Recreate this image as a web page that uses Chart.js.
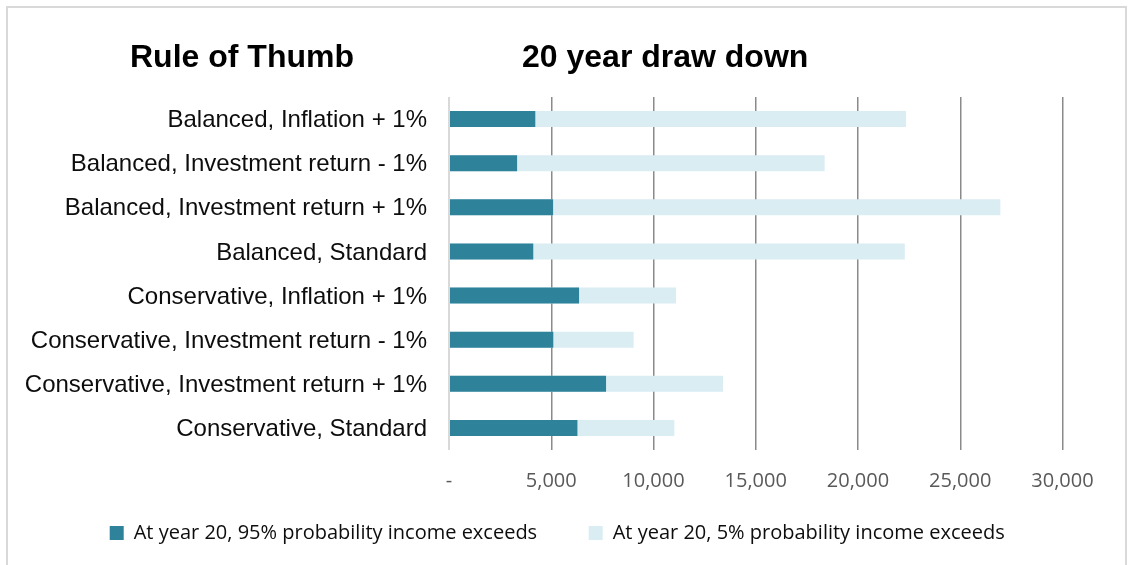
<!DOCTYPE html>
<html>
<head>
<meta charset="utf-8">
<script src="https://cdn.jsdelivr.net/npm/chart.js@4/dist/chart.umd.min.js"></script>
<style>
  html, body { margin: 0; padding: 0; background: #fff; }
  #wrap { position: relative; width: 1130px; height: 565px; overflow: hidden; }
  #frame { position: absolute; left: 6px; top: 6px; width: 1117px; height: 600px;
           border: 2px solid #d9d9d9; pointer-events: none; }
</style>
</head>
<body>
<div id="wrap">
  <canvas id="drawdownChart"></canvas>
  <div id="frame"></div>
</div>
<script>
// scenarios, top to bottom
const scenarios = [
    'Balanced, Inflation + 1%',
    'Balanced, Investment return - 1%',
    'Balanced, Investment return + 1%',
    'Balanced, Standard',
    'Conservative, Inflation + 1%',
    'Conservative, Investment return - 1%',
    'Conservative, Investment return + 1%',
    'Conservative, Standard'
];

// income at year 20
const income95 = [4220, 3330, 5090, 4120, 6360, 5100, 7680, 6280];
const income5 = [22350, 18370, 26960, 22290, 11100, 9030, 13400, 11020];

const seriesNames = [
    'At year 20, 95% probability income exceeds',
    'At year 20, 5% probability income exceeds'
];

const headings = ['Rule of Thumb', '20 year draw down'];

// two bold headings side by side above the plot
const headingPlugin = {
    id: 'headings',
    afterDraw(chart) {
        const ctx = chart.ctx;
        ctx.save();
        ctx.fillStyle = '#000';
        ctx.font = 'bold 32px "Liberation Sans", Arial, sans-serif';
        ctx.textAlign = 'left';
        ctx.textBaseline = 'alphabetic';
        ctx.fillText(headings[0], 130, 67);
        ctx.fillText(headings[1], 522, 67);
        ctx.restore();
    }
};

Chart.defaults.animation = false;

new Chart(document.getElementById('drawdownChart'), {
    type: 'bar',
    data: {
        labels: scenarios,
        datasets: [{
            label: seriesNames[0],
            data: income95,
            backgroundColor: '#2e839a',
            borderColor: '#2e839a',
            borderWidth: 0
        }, {
            label: seriesNames[1],
            data: income5,
            backgroundColor: '#daedf3',
            borderColor: '#daedf3',
            borderWidth: 0
        }]
    },
    options: {
        indexAxis: 'y',
        responsive: true,
        maintainAspectRatio: false,
        categoryPercentage: 0.45,
        barPercentage: 0.8,
        layout: {
            padding: { top: 97, right: 0, bottom: 12, left: 0 }
        },
        scales: {
            x: {
                min: 0,
                max: 30000,
                stacked: false,
                border: { display: false },
                grid: {
                    drawTicks: false,
                    color: c => c.tick && c.tick.value === 0 ? '#d9d9d9' : '#8a8a8a',
                    lineWidth: c => c.tick && c.tick.value === 0 ? 2 : 1.5
                },
                ticks: {
                    stepSize: 5000,
                    padding: 19,
                    color: '#595959',
                    font: { family: '"Open Sans", sans-serif', size: 20 },
                    callback: v => v === 0 ? '-' : v.toLocaleString('en-US')
                },
                afterFit: scale => { scale.height = 63; }
            },
            y: {
                stacked: true,
                border: { display: false },
                grid: { display: false, drawTicks: false },
                ticks: {
                    autoSkip: false,
                    padding: 22,
                    labelOffset: 1.5,
                    color: '#0d0d0d',
                    font: { family: '"Liberation Sans", Arial, sans-serif', size: 24 }
                },
                afterFit: scale => { scale.width = 449; }
            },
            // empty strip that keeps the plot clear of the right edge
            yEdge: {
                type: 'category',
                position: 'right',
                border: { display: false },
                grid: { display: false, drawTicks: false },
                ticks: { display: false },
                afterFit: scale => { scale.width = 67.5; }
            }
        },
        plugins: {
            legend: {
                position: 'bottom',
                labels: {
                    boxWidth: 14,
                    boxHeight: 14,
                    padding: 10,
                    color: '#0d0d0d',
                    font: { family: '"Open Sans", sans-serif', size: 20 },
                    // wider gap between the two entries, row nudged left
                    generateLabels: chart => {
                        const items = Chart.defaults.plugins.legend.labels.generateLabels(chart);
                        items.forEach((item, i) => {
                            item.text += i < items.length - 1 ? '        ' : '   ';
                        });
                        return items;
                    }
                }
            },
            title: { display: false },
            tooltip: { enabled: false }
        }
    },
    plugins: [headingPlugin]
});
</script>
</body>
</html>
